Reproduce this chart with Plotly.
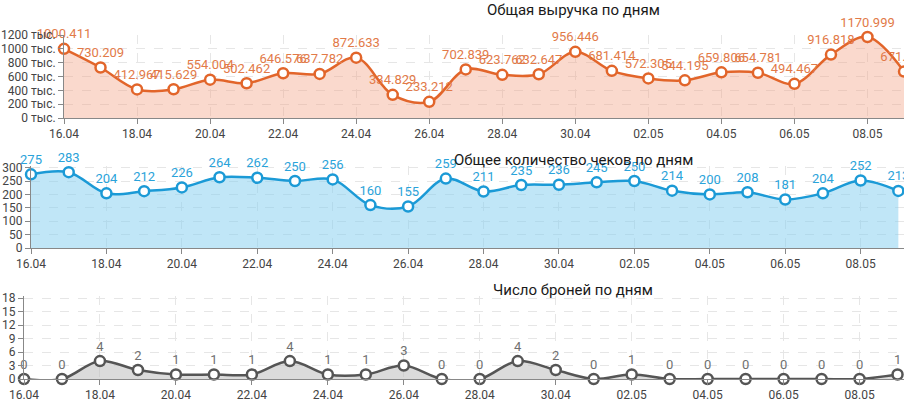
import plotly.graph_objects as go

dates = ["16.04", "17.04", "18.04", "19.04", "20.04", "21.04", "22.04", "23.04",
         "24.04", "25.04", "26.04", "27.04", "28.04", "29.04", "30.04", "01.05",
         "02.05", "03.05", "04.05", "05.05", "06.05", "07.05", "08.05", "09.05"]

revenue = [1000.411, 730.209, 412.967, 415.629, 554.004, 502.462, 646.576, 637.782,
           872.633, 334.829, 233.212, 702.839, 623.762, 632.647, 956.446, 681.414,
           572.305, 544.195, 659.806, 654.781, 494.467, 916.818, 1170.999, 671.502]

checks = [275, 283, 204, 212, 226, 264, 262, 250, 256, 160, 155, 259, 211, 235,
          236, 245, 250, 214, 200, 208, 181, 204, 252, 213]

bookings = [0, 0, 4, 2, 1, 1, 1, 4, 1, 1, 3, 0, 0, 4, 2, 0, 1, 0, 0, 0, 0, 0, 0, 1]

titles = ["Общая выручка по дням", "Общее количество чеков по дням", "Число броней по дням"]

W, H = 904, 399
FONT = "Roboto"

def fy(px):
    return 1 - px / H

fig = go.Figure()

series = [
    (revenue, [f"{v:.3f}" for v in revenue], "#e2652a", "rgba(242,160,130,0.40)", "#e27a48", "x", "y"),
    (checks, [str(v) for v in checks], "#1b9ad6", "rgba(130,205,240,0.50)", "#2aa3da", "x2", "y2"),
    (bookings, [str(v) for v in bookings], "#555555", "rgba(190,190,190,0.55)", "#707070", "x3", "y3"),
]

for vals, txt, lc, fc, tc, xa, ya in series:
    fig.add_trace(go.Scatter(
        x=dates, y=vals, text=txt, mode="lines+markers+text",
        textposition="top center",
        textfont=dict(family=FONT, size=13, color=tc),
        line=dict(color=lc, width=2.5, shape="spline", smoothing=1.0),
        marker=dict(size=10, color="white", line=dict(color=lc, width=2.5)),
        fill="tozeroy", fillcolor=fc,
        cliponaxis=False, xaxis=xa, yaxis=ya, showlegend=False,
    ))

grid = dict(showgrid=True, gridcolor="#e6e6e6", griddash="dash", gridwidth=1)
tickf = dict(family=FONT, size=12, color="#444")
tickvals = dates[::2]

def xax(dom_left, rng_end, anchor):
    return dict(domain=[dom_left / W, 1.0], type="category", range=[0, rng_end],
                tickmode="array", tickvals=tickvals, ticks="outside", ticklen=5,
                tickcolor="#888", showline=True, linecolor="#888", linewidth=1,
                tickfont=tickf, anchor=anchor, automargin=False, **grid)

def yax(dom, rng, dtick, anchor, suffix=""):
    return dict(domain=dom, range=rng, dtick=dtick, ticks="outside", ticklen=5,
                tickcolor="#888", showline=True, linecolor="#888", linewidth=1,
                tickfont=tickf, ticksuffix=suffix, anchor=anchor, zeroline=False,
                automargin=False, **grid)

fig.update_layout(
    width=W, height=H, margin=dict(l=0, r=0, t=0, b=0, autoexpand=False),
    paper_bgcolor="white", plot_bgcolor="white",
    font=dict(family=FONT),
    xaxis=xax(64, 23.0, "y"),
    yaxis=yax([fy(118), fy(35)], [0, 1200], 200, "x", " тыс."),
    xaxis2=xax(31, 23.15, "y2"),
    yaxis2=yax([fy(248), fy(166)], [0, 306], 50, "x2"),
    xaxis3=xax(24, 23.17, "y3"),
    yaxis3=yax([fy(379), fy(296)], [0, 18.5], 3, "x3"),
)

for t, ypx in zip(titles, [10, 160, 290]):
    fig.add_annotation(text=t, x=573 / W, y=fy(ypx), xref="paper", yref="paper",
                       showarrow=False, xanchor="center", yanchor="middle",
                       font=dict(family=FONT, size=15, color="#1a1a1a", weight=400))

fig.write_html("out.html", config={"displayModeBar": False},
               post_script="document.body.style.margin='0';document.body.style.overflow='hidden';")
